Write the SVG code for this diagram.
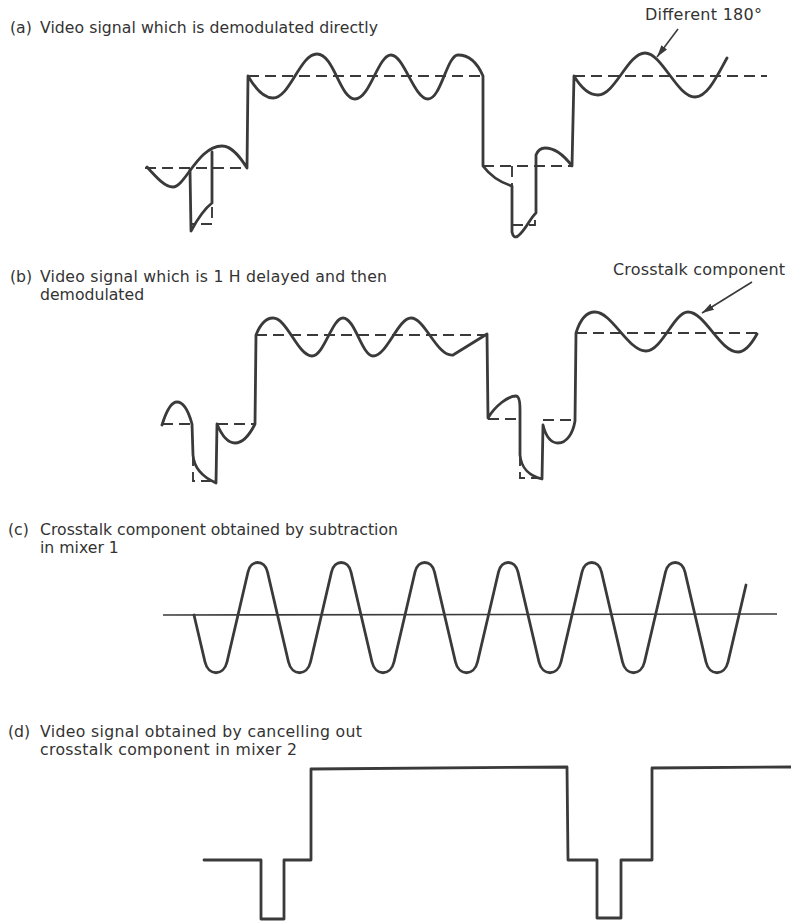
<svg xmlns="http://www.w3.org/2000/svg" width="791" height="923" viewBox="0 0 791 923">
<style>
  .t { font-family: "DejaVu Sans", "Liberation Sans", sans-serif; font-size: 15.7px; fill: #333; }
  .lbl { font-family: "DejaVu Sans", "Liberation Sans", sans-serif; font-size: 16px; fill: #333; }
  .w { fill: none; stroke: #3a3a3a; stroke-width: 2.8; stroke-linejoin: round; stroke-linecap: round; }
  .d { fill: none; stroke: #3a3a3a; stroke-width: 1.9; stroke-dasharray: 11 6; }
  .ln { fill: none; stroke: #3a3a3a; stroke-width: 1.6; }
</style>
<defs>
  <marker id="ah" viewBox="0 0 12 7" refX="12" refY="3.5" markerWidth="12" markerHeight="7" markerUnits="userSpaceOnUse" orient="auto">
    <path d="M0,0 L12,3.5 L0,7 z" fill="#3a3a3a"/>
  </marker>
</defs>
<rect width="791" height="923" fill="#fff"/>

<g id="panel-a">
  <text class="t" x="10" y="33">(a)</text>
  <text class="t" x="40" y="33" textLength="338" lengthAdjust="spacing">Video signal which is demodulated directly</text>
  <g id="a-ref">
    <path class="d" d="M145,168 H247 M248,76 H483 M483,166 H572 M574,76 H767"/>
    <path class="d" d="M212,190 V224 H190 M512,166 V185 M512,225 H535 V213"/>
  </g>
  <g id="a-wave">
    <path class="w" d="M147,167 C157,178 165,187 173,187 C185,187 198,146 222,146 C233,146 242,160 247,168 L248,76 C255,88 263,98 273,98 C290,98 300,54 317,54 C334,54 340,99 355,99 C370,99 378,55 391,55 C404,55 414,99 428,99 C441,99 447,55 458,55 C468,55 477,62 483,76 L483,166 C492,178 502,183 512,186 L512,232 C513,237 515,238 518,236 C526,230 530,218 536,213 L536,155 C538,150 541,148 545,148 C556,148 566,158 572,166 L574,76 C580,86 588,95 598,95 C615,95 628,53 645,53 C662,53 677,97 695,97 C708,97 718,74 727,58"/>
    <path class="w" d="M190,170 L191,231 C197,220 204,209 212,203 L212,152"/>
  </g>
</g>

<g id="label-different">
  <text class="lbl" x="645" y="20" textLength="117" lengthAdjust="spacing">Different 180°</text>
</g>

<g id="panel-b">
  <text class="t" x="10" y="282">(b)</text>
  <text class="t" x="40" y="282" textLength="347" lengthAdjust="spacing">Video signal which is 1 H delayed and then</text>
  <text class="t" x="40" y="300">demodulated</text>
  <g id="b-ref">
    <path class="d" d="M162,424 H192 M217,424 H255 M256,335 H487 M488,419 H520 M543,420 H575 M576,333 H763"/>
    <path class="d" d="M193,455 V481 H216 M520,455 V478 H542"/>
  </g>
  <g id="b-wave">
    <path class="w" d="M162,425 C166,412 171,402 177,402 C184,402 189,413 192,424 L193,455 C194,470 205,478 216,483 L217,424 C222,436 228,443 235,443 C243,443 250,434 255,424 L256,335 C260,325 265,318 273,318 C287,318 298,356 312,356 C324,356 332,318 343,318 C355,318 362,356 373,356 C387,356 398,318 411,318 C425,318 437,357 453,355 L487,334 L488,418 C495,406 508,396 516,396 C519,396 520,402 520,410 L520,455 C521,468 530,476 542,479 L543,425 C546,437 551,443 558,443 C567,443 573,433 575,421 L576,333 C580,320 586,312 595,312 C612,312 628,351 646,351 C662,351 674,312 688,312 C705,312 720,352 738,352 C746,352 752,343 757,334"/>
  </g>
</g>

<g id="label-crosstalk">
  <text class="lbl" x="613" y="275" textLength="172" lengthAdjust="spacing">Crosstalk component</text>
</g>

<g id="panel-c">
  <text class="t" x="8" y="535">(c)</text>
  <text class="t" x="40" y="535" textLength="358" lengthAdjust="spacing">Crosstalk component obtained by subtraction</text>
  <text class="t" x="40" y="553">in mixer 1</text>
  <path class="ln" d="M163,615 L777,614"/>
  <path class="w" d="M194,615 L205,662 C208.35,676.3 223.65,676.3 227,662 L238,615 L248,572 C250.9,559.3 264.6,559.3 267.5,572 L277.5,615 L288.5,662 C291.85,676.3 307.15,676.3 310.5,662 L321.5,615 L331.5,572 C334.4,559.3 348.1,559.3 351,572 L361,615 L372,662 C375.35,676.3 390.65,676.3 394,662 L405,615 L415,572 C417.9,559.3 431.6,559.3 434.5,572 L444.5,615 L455.5,662 C458.85,676.3 474.15,676.3 477.5,662 L488.5,615 L498.5,572 C501.4,559.3 515.1,559.3 518,572 L528,615 L539,662 C542.35,676.3 557.65,676.3 561,662 L572,615 L582,572 C584.9,559.3 598.6,559.3 601.5,572 L611.5,615 L622.5,662 C625.85,676.3 641.15,676.3 644.5,662 L655.5,615 L665.5,572 C668.4,559.3 682.1,559.3 685,572 L695,615 L706,662 C709.35,676.3 724.65,676.3 728,662 L739,615 L746,585"/>
</g>

<g id="panel-d">
  <text class="t" x="8" y="737">(d)</text>
  <text class="t" x="40" y="737" textLength="322" lengthAdjust="spacing">Video signal obtained by cancelling out</text>
  <text class="t" x="40" y="755" textLength="257" lengthAdjust="spacing">crosstalk component in mixer 2</text>
  <path class="w" d="M204,860 L261,860 L261,919 L284,919 L284,860 L311,860 L311,769 L567,767 L568,860 L597,860 L597,918 L621,918 L621,860 L652,860 L652,768 L791,767"/>
</g>

<g id="connectors">
  <path class="ln" d="M678,29 L657,57" marker-end="url(#ah)"/>
  <path class="ln" d="M752,282 L702,313" marker-end="url(#ah)"/>
</g>
</svg>
